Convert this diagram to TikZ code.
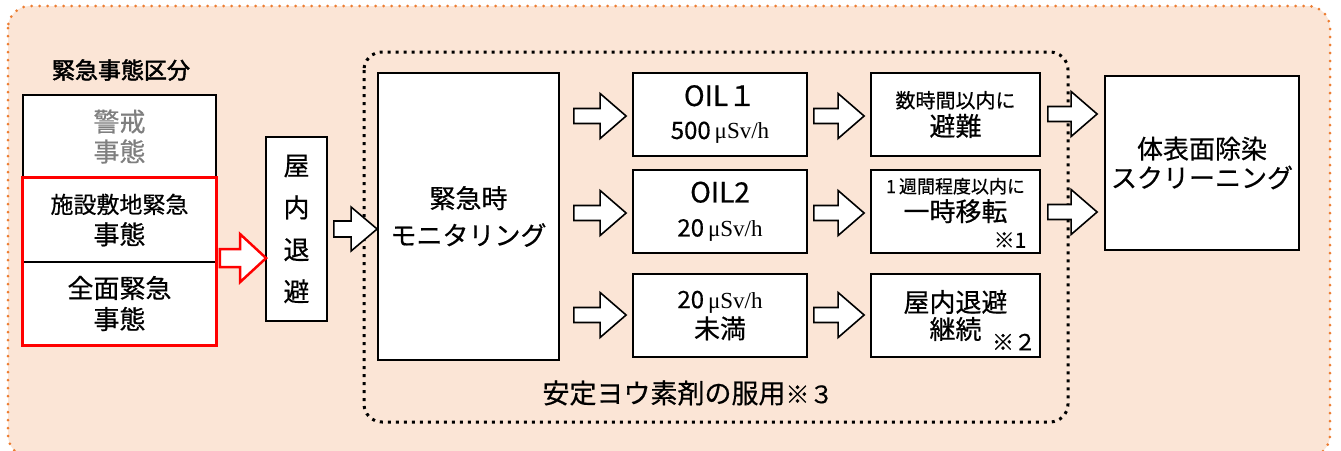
\documentclass[tikz,border=0pt]{standalone}
\usepackage{fontspec}
\setmainfont{Noto Sans CJK JP}[FakeBold=0.5]
\newfontfamily\heavyjp{Noto Sans CJK JP}[FakeBold=2]
\newfontfamily\serifjp{Liberation Serif}
\usetikzlibrary{calc}
\definecolor{peach}{HTML}{FBE5D6}
\definecolor{dotorange}{HTML}{ED7D31}
\definecolor{alertred}{HTML}{FF0000}
\definecolor{graytext}{HTML}{7F7F7F}
\newcommand\fs[2]{\fontsize{#1}{#2}\selectfont}
% #2 tail, #3 tip, #4 shaft half-height, #5 head half-height
\newcommand\blockarrow[5][]{%
  \draw[blockarr,#1] let \p1=(#2), \p2=(#3) in
    (\x1,\y1+#4) -- (\x2-26,\y1+#4) -- (\x2-26,\y1+#5) -- (\x2,\y1)
    -- (\x2-26,\y1-#5) -- (\x2-26,\y1-#4) -- (\x1,\y1-#4) -- cycle;}
\tikzset{
  box/.style={draw=black, line width=1.8pt, fill=white, inner sep=0pt, align=center},
  blockarr/.style={draw=black, line width=1.6pt, fill=white, line join=miter},
}
\begin{document}
\begin{tikzpicture}[x=1pt,y=-1pt]
\useasboundingbox (0,0) rectangle (1341,450);
\fill[white] (0,0) rectangle (1341,450);
% outer orange dotted region
\draw[fill=peach, draw=dotorange, line width=3pt, line cap=round,
      dash pattern=on 0pt off 8pt, rounded corners=22] (8,6) rectangle (1330,457);
% inner black dotted region
\draw[black, line width=3pt, dash pattern=on 3pt off 5pt, rounded corners=18]
      (364,52) rectangle (1068,422);

% emergency categories
\node[font=\heavyjp\fs{23}{26}] (cat) at (121,70) {緊急事態区分};
\node[box, minimum width=193, minimum height=83, text=graytext, font=\fs{26}{30}]
  (keikai) at (119.5,136.5) {警戒\\事態};
\node[box, minimum width=193, minimum height=84, font=\fs{26}{31}]
  (shisetsu) at (119.5,220) {{\fs{23}{31}施設敷地緊急}\\事態};
\node[box, minimum width=193, minimum height=83, font=\fs{26}{31}]
  (zenmen) at (119.5,303.5) {全面緊急\\事態};
\draw[alertred, line width=3pt] (shisetsu.north west) rectangle (zenmen.south east);

% sheltering
\node[box, minimum width=61, minimum height=184, font=\fs{26}{42}]
  (okunai) at (296.5,229) {屋\\内\\退\\避};
\blockarrow[draw=alertred, line width=2.5pt]{$(zenmen.north east)+(3,-3)$}{$(okunai.west |- zenmen.north east)+(1,-3)$}{9}{24}

% monitoring
\node[box, minimum width=181, minimum height=287, font=\fs{26}{37}]
  (mon) at (468.5,216.5) {緊急時\\モニタリング};
\blockarrow{$(okunai.east)+(6,0)$}{$(mon.west |- okunai.east)$}{8}{22}

% OIL boxes
\node[box, minimum width=174, minimum height=83, font=\fs{26}{33}]
  (oil1) at (720,114.5) {{\fs{28}{33}OIL１}\\{\fs{24}{33}500\,{\serifjp\fs{23}{33}μSv/h}}};
\node[box, minimum width=174, minimum height=83, font=\fs{26}{34}]
  (oil2) at (720,211.5) {{\fs{28}{34}OIL2}\\{\fs{24}{34}20\,{\serifjp\fs{23}{34}μSv/h}}};
\node[box, minimum width=174, minimum height=83, font=\fs{26}{30}]
  (oil3) at (720,315.5) {{\fs{24}{30}20\,{\serifjp\fs{23}{30}μSv/h}}\\未満};

\blockarrow{$(mon.east |- oil1.west)+(14,1.5)$}{$(oil1.west)+(-6,1.5)$}{7.5}{22.5}
\blockarrow{$(mon.east |- oil2.west)+(14,1.5)$}{$(oil2.west)+(-6,1.5)$}{7.5}{22.5}
\blockarrow{$(mon.east |- oil3.west)+(14,-0.5)$}{$(oil3.west)+(-6,-0.5)$}{7.5}{22.5}

% protective actions
\node[box, minimum width=169, minimum height=83, font=\fs{26}{28}]
  (hinan) at (955.5,114.5) {{\fs{20}{28}数時間以内に}\\避難};
\node[box, minimum width=169, minimum height=83, font=\fs{26}{28}]
  (iten) at (955.5,211.5) {{\fs{18}{28}1\,週間程度以内に}\\一時移転\\[-4pt]\mbox{}};
\node[box, minimum width=169, minimum height=83, font=\fs{26}{27}]
  (keizoku) at (955.5,315.5) {屋内退避\\継続};
\node[font=\fs{21}{24}] (note1) at (1010,240) {※1};
\node[font=\fs{22}{24}] (note2) at (1014,342) {※２};

\blockarrow{$(oil1.east)+(6,1.5)$}{$(hinan.west)+(-6,1.5)$}{7.5}{22.5}
\blockarrow{$(oil2.east)+(6,1.5)$}{$(iten.west)+(-6,1.5)$}{7.5}{22.5}
\blockarrow{$(oil3.east)+(6,-0.5)$}{$(keizoku.west)+(-6,-0.5)$}{7.5}{22.5}

% decontamination
\node[box, minimum width=194, minimum height=174, font=\fs{26}{29}]
  (body) at (1202,163) {体表面除染\\スクリーニング};
\blockarrow{$(hinan.east)+(7,-0.5)$}{$(body.west |- hinan.east)+(-7,-0.5)$}{7.5}{22.5}
\blockarrow{$(iten.east)+(7,0.5)$}{$(body.west |- iten.east)+(-7,0.5)$}{7.5}{22.5}

% iodine label
\node[font=\fs{27}{30}] (yoso) at (688,393) {安定ヨウ素剤の服用{\fs{24}{30}※３}};
\end{tikzpicture}
\end{document}
